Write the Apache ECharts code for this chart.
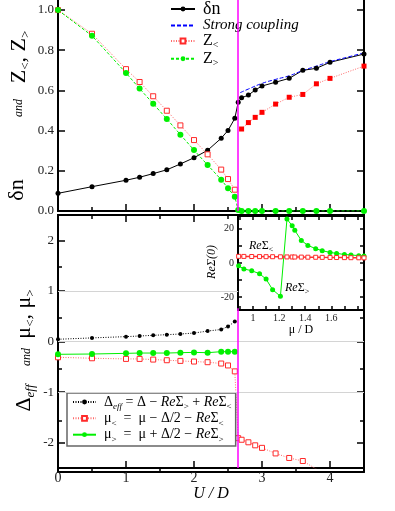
<!DOCTYPE html>
<html>
<head>
<meta charset="utf-8">
<script src="https://cdn.jsdelivr.net/npm/echarts@6/dist/echarts.min.js"></script>
<style>
html, body { margin: 0; padding: 0; background: #fff; }
#chart { width: 395px; height: 511px; }
</style>
</head>
<body>
<div id="chart"></div>
<script>
// ---- top panel: delta n, Z<, Z> vs U/D
var dnU = [0, 0.5, 1, 1.2, 1.4, 1.6, 1.8, 2, 2.2, 2.4, 2.5, 2.6, 2.65, 2.7, 2.8, 2.9, 3, 3.2, 3.4, 3.6, 3.8, 4, 4.5];
var dnVal = [0.088, 0.121, 0.153, 0.168, 0.186, 0.205, 0.234, 0.265, 0.302, 0.362, 0.401, 0.461, 0.541, 0.563, 0.577, 0.602, 0.622, 0.641, 0.66, 0.70, 0.71, 0.74, 0.781];

var strongU = [2.68, 2.8, 3, 3.2, 3.4, 3.6, 3.8, 4, 4.25, 4.5];
var strongVal = [0.589, 0.607, 0.635, 0.655, 0.673, 0.699, 0.721, 0.743, 0.765, 0.787];

var zlU = [0, 0.5, 1, 1.2, 1.4, 1.6, 1.8, 2, 2.2, 2.4, 2.5, 2.6];
var zlVal = [1.0, 0.882, 0.706, 0.642, 0.571, 0.499, 0.426, 0.353, 0.282, 0.206, 0.159, 0.106];
var zlMetU = [2.7, 2.8, 2.9, 3, 3.2, 3.4, 3.6, 3.8, 4, 4.5];
var zlMetVal = [0.408, 0.44, 0.466, 0.491, 0.532, 0.566, 0.58, 0.633, 0.66, 0.721];

var zgU = [0, 0.5, 1, 1.2, 1.4, 1.6, 1.8, 2, 2.2, 2.4, 2.5, 2.6, 2.65, 2.7, 2.8, 2.9, 3, 3.2, 3.4, 3.6, 3.8, 4, 4.5];
var zgVal = [1.0, 0.872, 0.687, 0.609, 0.534, 0.458, 0.38, 0.303, 0.229, 0.156, 0.113, 0.071, 0.005, 0, 0, 0, 0, 0, 0, 0, 0, 0, 0];

// ---- bottom panel: Delta_eff, mu<, mu>
var deffU = [0, 0.5, 1, 1.2, 1.4, 1.6, 1.8, 2, 2.2, 2.4, 2.5, 2.6];
var deffVal = [0.045, 0.072, 0.097, 0.11, 0.123, 0.136, 0.149, 0.168, 0.207, 0.239, 0.298, 0.394];

var mulU = [0, 0.5, 1, 1.2, 1.4, 1.6, 1.8, 2, 2.2, 2.4, 2.5, 2.6, 2.65, 2.7, 2.8, 2.9, 3, 3.2, 3.4, 3.6, 3.8, 4];
var mulVal = [-0.311, -0.33, -0.343, -0.343, -0.356, -0.369, -0.382, -0.395, -0.408, -0.434, -0.472, -0.589, -1.909, -1.94, -1.99, -2.05, -2.10, -2.21, -2.30, -2.36, -2.52, -2.75];

var mugU = [0, 0.5, 1, 1.2, 1.4, 1.6, 1.8, 2, 2.2, 2.4, 2.5, 2.6];
var mugVal = [-0.252, -0.246, -0.233, -0.227, -0.227, -0.227, -0.22, -0.214, -0.22, -0.2, -0.2, -0.2];

// ---- inset: Re Sigma(0) vs mu/D
var muIn = [0.89, 0.93, 0.99, 1.05, 1.1, 1.15, 1.21, 1.26, 1.3, 1.32, 1.37, 1.42, 1.48, 1.53, 1.59, 1.64, 1.7, 1.75, 1.81, 1.85];
var sgVal = [-1.6, -3.5, -4.5, -6.3, -9.4, -15.6, -19.5, 25.7, 21.8, 19.1, 13.2, 10.3, 8.4, 7.2, 6.2, 5.6, 5.0, 4.7, 4.3, 4.1];
var slVal = [3.9, 3.85, 3.8, 3.75, 3.7, 3.68, 3.62, 3.55, 3.52, 3.5, 3.45, 3.4, 3.35, 3.3, 3.25, 3.2, 3.15, 3.1, 3.05, 3.0];

// ---- ticks
var uMajor = [0, 1, 2, 3, 4];
var uMinor = [0.5, 1.5, 2.5, 3.5];
var uMajorTop = [0, 1, 2];          // bottom panel top edge, left of the inset
var uMinorTop = [0.5, 1.5, 2.5];
var topTicks = [0, 0.2, 0.4, 0.6, 0.8, 1.0];
var botTicks = [-2, -1, 0, 1, 2];
var botMinor = [-1.5, -0.5, 0.5, 1.5];
var botTicksR = [-2, -1, 0];         // right edge, below the inset
var botMinorR = [-1.5, -0.5, 0.5];
var muTicks = [0.9, 1.0, 1.1, 1.2, 1.3, 1.4, 1.5, 1.6, 1.7, 1.8];
var muLabels = [1, 1.2, 1.4, 1.6];
var sTicks = [-20, -10, 0, 10, 20];
var sLabels = [-20, 0, 20];
var Uc = 2.65;

var FONT = '"Liberation Serif", "Times New Roman", serif';
var GREEN = '#00f000';

function zip(xs, ys) {
    return xs.map(function (x, i) { return [x, ys[i]]; });
}

function ax(o) {
    return {
        type: 'value', gridIndex: o.grid, position: o.pos, min: o.min, max: o.max,
        z: o.z || 0,
        splitLine: { show: false },
        axisLine: { show: true, onZero: false, lineStyle: { color: '#000', width: 2 } },
        axisTick: { show: true, inside: true, length: o.len || 7, customValues: o.ticks,
            lineStyle: { color: '#000', width: 1.5 } },
        axisLabel: o.labels ? {
            show: true, customValues: o.labels, fontFamily: FONT, fontSize: o.fs || 13,
            color: '#222', margin: o.margin || 4, formatter: o.fmt
        } : { show: false },
        name: o.name || '',
        nameLocation: 'middle',
        nameGap: o.nameGap || 0,
        nameTextStyle: o.nameTextStyle
    };
}

var myChart = echarts.init(document.getElementById('chart'));

var rot = {
    m: { fontFamily: FONT, fontSize: 22, lineHeight: 26, color: '#000' },
    s: { fontFamily: FONT, fontSize: 13, lineHeight: 11, verticalAlign: 'bottom', color: '#000' },
    si: { fontFamily: FONT, fontSize: 13, fontStyle: 'italic', lineHeight: 11, verticalAlign: 'bottom', color: '#000' },
    a: { fontFamily: FONT, fontSize: 12, fontStyle: 'italic', lineHeight: 26, color: '#000' }
};
var small = {
    i: { fontFamily: FONT, fontSize: 12, fontStyle: 'italic', lineHeight: 15, color: '#000' },
    m: { fontFamily: FONT, fontSize: 12, lineHeight: 15, color: '#000' },
    s: { fontFamily: FONT, fontSize: 8, lineHeight: 7, verticalAlign: 'bottom', color: '#000' }
};

var topNames = {
    dn: '{g| }{b|δn}',
    strong: '{g| }{i|Strong coupling}',
    zl: '{g| }{m|Z}{s|<}',
    zg: '{g| }{m|Z}{s|>}'
};
var botNames = {
    deff: '{g| }{m|Δ}{si|eff}{m| = Δ − }{i|Re}{m|Σ}{s|>}{m| + }{i|Re}{m|Σ}{s|<}',
    mul: '{g| }{m|μ}{s|<}{m|  =  μ − Δ/2 − }{i|Re}{m|Σ}{s|<}',
    mug: '{g| }{m|μ}{s|>}{m|  =  μ + Δ/2 − }{i|Re}{m|Σ}{s|>}'
};

option = {
    backgroundColor: '#fff',
    animation: false,
    textStyle: { fontFamily: FONT },
    grid: [
        { left: 58, top: 0, width: 306, height: 211 },
        { left: 58, top: 0, width: 306, height: 211 },
        { left: 58, top: 215, width: 306, height: 257 },
        { left: 58, top: 215, width: 306, height: 257 },
        { left: 238, top: 216, width: 126, height: 94, show: true, backgroundColor: '#fff', borderWidth: 0, z: 3 }
    ],
    xAxis: [
        ax({ grid: 0, pos: 'bottom', min: 0, max: 4.5, ticks: uMajor }),
        ax({ grid: 1, pos: 'bottom', min: 0, max: 4.5, ticks: uMinor, len: 4 }),
        ax({ grid: 2, pos: 'bottom', min: 0, max: 4.5, ticks: uMajor, labels: uMajor, fs: 14, margin: 3,
            name: 'U / D', nameGap: 17,
            nameTextStyle: { fontFamily: FONT, fontSize: 16, fontStyle: 'italic', color: '#000' } }),
        ax({ grid: 2, pos: 'top', min: 0, max: 4.5, ticks: uMajorTop }),
        ax({ grid: 3, pos: 'bottom', min: 0, max: 4.5, ticks: uMinor, len: 4 }),
        ax({ grid: 3, pos: 'top', min: 0, max: 4.5, ticks: uMinorTop, len: 4 }),
        ax({ grid: 4, pos: 'bottom', min: 0.885, max: 1.85, ticks: muTicks, len: 4, labels: muLabels, fs: 10,
            margin: 3, z: 4, name: 'μ / D', nameGap: 14,
            nameTextStyle: { fontFamily: FONT, fontSize: 12, color: '#000' } }),
        ax({ grid: 4, pos: 'top', min: 0.885, max: 1.85, ticks: muTicks, len: 4, z: 4 })
    ],
    yAxis: [
        ax({ grid: 0, pos: 'left', min: 0, max: 1.05, ticks: topTicks, labels: topTicks,
            fmt: function (v) { return v.toFixed(1); } }),
        ax({ grid: 0, pos: 'right', min: 0, max: 1.05, ticks: topTicks }),
        { type: 'value', gridIndex: 1, show: false, min: 0, max: 1 },
        ax({ grid: 2, pos: 'left', min: -2.5, max: 2.5, ticks: botTicks, labels: botTicks }),
        ax({ grid: 2, pos: 'right', min: -2.5, max: 2.5, ticks: botTicksR }),
        ax({ grid: 3, pos: 'left', min: -2.5, max: 2.5, ticks: botMinor, len: 4 }),
        ax({ grid: 3, pos: 'right', min: -2.5, max: 2.5, ticks: botMinorR, len: 4 }),
        ax({ grid: 4, pos: 'left', min: -27.5, max: 27.5, ticks: sTicks, len: 4, labels: sLabels, fs: 10, z: 4 }),
        ax({ grid: 4, pos: 'right', min: -27.5, max: 27.5, ticks: sTicks, len: 4, z: 4 })
    ],
    legend: [{
        left: 170, top: 0, padding: 0, orient: 'vertical', itemGap: 0,
        itemWidth: 24, itemHeight: 6, selectedMode: false,
        data: ['dn', { name: 'strong', itemStyle: { opacity: 0 } }, 'zl', 'zg'],
        formatter: function (n) { return topNames[n]; },
        textStyle: {
            fontFamily: FONT, color: '#000',
            rich: {
                g: { width: 3 },
                b: { fontFamily: FONT, fontSize: 18, lineHeight: 19.5 },
                i: { fontFamily: FONT, fontSize: 15, fontStyle: 'italic', lineHeight: 19.5 },
                m: { fontFamily: FONT, fontSize: 16, lineHeight: 19.5 },
                s: { fontFamily: FONT, fontSize: 10, lineHeight: 8, verticalAlign: 'bottom' }
            }
        }
    }, {
        left: 67, top: 393, padding: [2, 4, 2, 5], orient: 'vertical', itemGap: 0,
        itemWidth: 23, itemHeight: 6, selectedMode: false,
        borderColor: '#666', borderWidth: 1.5, backgroundColor: '#fff',
        data: ['deff', 'mul', 'mug'],
        formatter: function (n) { return botNames[n]; },
        textStyle: {
            fontFamily: FONT, color: '#000',
            rich: {
                g: { width: 3 },
                m: { fontFamily: FONT, fontSize: 14, lineHeight: 18.7 },
                i: { fontFamily: FONT, fontSize: 14, fontStyle: 'italic', lineHeight: 18.7 },
                s: { fontFamily: FONT, fontSize: 9, lineHeight: 9, verticalAlign: 'bottom' },
                si: { fontFamily: FONT, fontSize: 9, fontStyle: 'italic', lineHeight: 9, verticalAlign: 'bottom' }
            }
        }
    }],
    graphic: [
        { type: 'text', x: 17.5, y: 190, rotation: Math.PI / 2,
            style: { text: '{m|δn}', rich: rot, align: 'center', verticalAlign: 'middle' } },
        { type: 'text', x: 18.5, y: 108, rotation: Math.PI / 2,
            style: { text: '{a|and}', rich: rot, align: 'center', verticalAlign: 'middle' } },
        { type: 'text', x: 19.5, y: 57, rotation: Math.PI / 2,
            style: { text: '{m|Z}{s|<}{m|, Z}{s|>}', rich: rot, align: 'center', verticalAlign: 'middle' } },
        { type: 'text', x: 24.5, y: 398, rotation: Math.PI / 2,
            style: { text: '{m|Δ}{si|eff}', rich: rot, align: 'center', verticalAlign: 'middle' } },
        { type: 'text', x: 27, y: 357, rotation: Math.PI / 2,
            style: { text: '{a|and}', rich: rot, align: 'center', verticalAlign: 'middle' } },
        { type: 'text', x: 24, y: 314, rotation: Math.PI / 2,
            style: { text: '{m|μ}{s|<}{m|, μ}{s|>}', rich: rot, align: 'center', verticalAlign: 'middle' } },
        { type: 'text', x: 212, y: 262, rotation: Math.PI / 2, z: 10,
            style: { text: '{i|ReΣ(0)}', rich: small, align: 'center', verticalAlign: 'middle' } },
        { type: 'text', x: 249, y: 246, z: 10,
            style: { text: '{i|Re}{m|Σ}{s|<}', rich: small, align: 'left', verticalAlign: 'middle' } },
        { type: 'text', x: 285, y: 288, z: 10,
            style: { text: '{i|Re}{m|Σ}{s|>}', rich: small, align: 'left', verticalAlign: 'middle' } }
    ],
    series: [
        {
            name: 'dn', type: 'line', xAxisIndex: 0, yAxisIndex: 0,
            data: zip(dnU, dnVal),
            symbol: 'circle', symbolSize: 5,
            itemStyle: { color: '#000' },
            lineStyle: { color: '#000', width: 1 },
            markLine: {
                silent: true, symbol: ['none', 'none'], label: { show: false },
                lineStyle: { color: '#ff00ff', width: 1.5, type: 'solid' },
                data: [{ xAxis: Uc }]
            }
        },
        {
            name: 'strong', type: 'line', xAxisIndex: 0, yAxisIndex: 0,
            data: zip(strongU, strongVal), smooth: true,
            symbol: 'none',
            itemStyle: { color: '#0000ff' },
            lineStyle: { color: '#0000ff', width: 1, type: [4, 2] }
        },
        {
            name: 'zl', type: 'line', xAxisIndex: 0, yAxisIndex: 0,
            data: zip(zlU, zlVal),
            symbol: 'rect', symbolSize: 5,
            itemStyle: { color: '#fff', borderColor: '#ff2a2a', borderWidth: 1 },
            lineStyle: { color: '#ff6a6a', width: 1, type: [1, 1.5] }
        },
        {
            name: 'zlMet', type: 'line', xAxisIndex: 0, yAxisIndex: 0,
            data: zip(zlMetU, zlMetVal),
            symbol: 'rect', symbolSize: 5,
            itemStyle: { color: '#ff0000' },
            lineStyle: { color: '#ff6a6a', width: 1, type: [1, 1.5] }
        },
        {
            name: 'zg', type: 'line', xAxisIndex: 0, yAxisIndex: 0,
            data: zip(zgU, zgVal),
            symbol: 'circle', symbolSize: 6,
            itemStyle: { color: GREEN },
            lineStyle: { color: GREEN, width: 1, type: [3, 2] }
        },
        {
            name: 'deff', type: 'line', xAxisIndex: 2, yAxisIndex: 3,
            data: zip(deffU, deffVal),
            symbol: 'circle', symbolSize: 4,
            itemStyle: { color: '#000' },
            lineStyle: { color: '#000', width: 1, type: [1, 1.5] },
            markLine: {
                silent: true, symbol: ['none', 'none'], label: { show: false },
                lineStyle: { color: '#d4d4d4', width: 1, type: 'solid' },
                data: [
                    // the line at 1 stops at the inset's left edge
                    [{ coord: [0, 1] }, { coord: [Uc, 1] }],
                    { yAxis: 0 },
                    { yAxis: -1 },
                    // magenta line runs only below the inset
                    [{ coord: [Uc, -2.5], lineStyle: { color: '#ff00ff', width: 1.5, type: 'solid' } },
                        { coord: [Uc, 0.66] }]
                ]
            }
        },
        {
            name: 'mul', type: 'line', xAxisIndex: 2, yAxisIndex: 3,
            data: zip(mulU, mulVal),
            symbol: 'rect', symbolSize: 5,
            itemStyle: { color: '#fff', borderColor: '#ff2a2a', borderWidth: 1 },
            lineStyle: { color: '#ff6a6a', width: 1, type: [1, 1.5] }
        },
        {
            name: 'mug', type: 'line', xAxisIndex: 2, yAxisIndex: 3,
            data: zip(mugU, mugVal),
            symbol: 'circle', symbolSize: 6,
            itemStyle: { color: GREEN },
            lineStyle: { color: GREEN, width: 1 }
        },
        {
            name: 'sg', type: 'line', xAxisIndex: 6, yAxisIndex: 7, z: 5,
            data: zip(muIn, sgVal),
            symbol: 'circle', symbolSize: 5,
            itemStyle: { color: GREEN },
            lineStyle: { color: GREEN, width: 1 }
        },
        {
            name: 'sl', type: 'line', xAxisIndex: 6, yAxisIndex: 7, z: 5,
            data: zip(muIn, slVal),
            symbol: 'rect', symbolSize: 4,
            itemStyle: { color: '#fff', borderColor: '#ff2a2a', borderWidth: 1 },
            lineStyle: { color: '#ff3030', width: 1.5 }
        }
    ]
};
myChart.setOption(option);
</script>
</body>
</html>
